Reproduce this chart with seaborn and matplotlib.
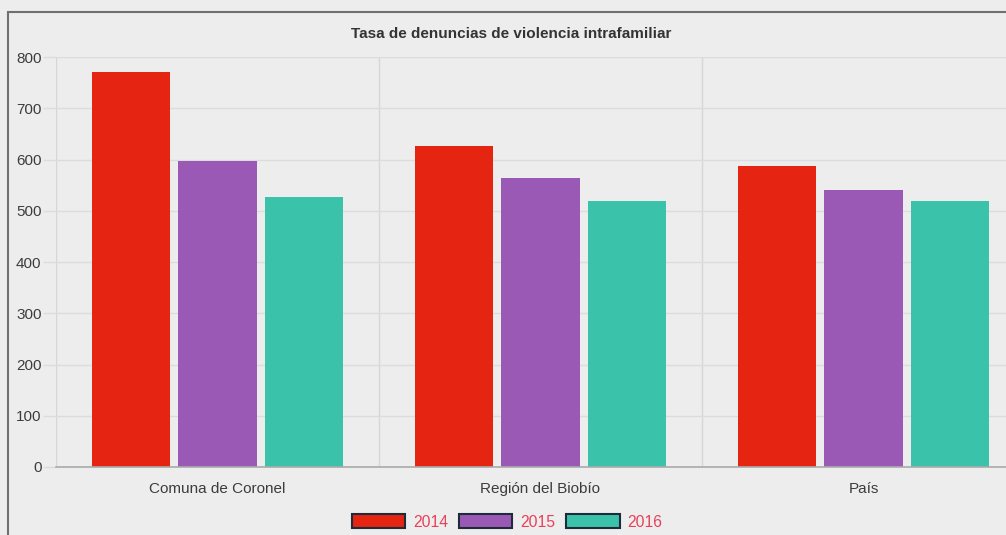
import pandas as pd
import seaborn as sns
import matplotlib.pyplot as plt
from matplotlib.patches import Rectangle, Patch

# Data
categorias = ['Comuna de Coronel', 'Región del Biobío', 'País']
anios = ['2014', '2015', '2016']
tasa_2014 = [771, 626, 587]
tasa_2015 = [597, 564, 540]
tasa_2016 = [527, 519, 519]
colores = ['#e62412', '#9b59b6', '#3ac3aa']

df = pd.DataFrame({
    'Territorio': categorias * 3,
    'Año': [a for a in anios for _ in categorias],
    'Tasa': tasa_2014 + tasa_2015 + tasa_2016,
})

sns.set_theme(style='white')
plt.rcParams['font.family'] = ['Liberation Sans', 'DejaVu Sans']

W, H = 1006, 535
fig = plt.figure(figsize=(W / 100, H / 100), dpi=100)
fig.patch.set_facecolor('#ededed')
ax = fig.add_axes([56 / W, (H - 467) / H, (1025 - 56) / W, (467 - 57) / H])
ax.set_facecolor('#ededed')

sns.barplot(data=df, x='Territorio', y='Tasa', hue='Año', palette=colores,
            width=0.8, gap=0.093, saturation=1, legend=False, ax=ax,
            edgecolor='none')

ax.set_xlim(-0.5, 2.5)
ax.set_ylim(0, 800)
ax.set_yticks(range(0, 801, 100))
ax.set_xlabel('')
ax.set_ylabel('')
for s in ['top', 'right', 'left']:
    ax.spines[s].set_visible(False)
ax.spines['bottom'].set_color('#aaaaaa')
ax.spines['bottom'].set_linewidth(1.2)

ax.grid(axis='y', color='#dcdcdc', linewidth=1)
ax.set_xticks([-0.5, 0.5, 1.5], minor=True)
ax.grid(axis='x', which='minor', color='#d6d6d6', linewidth=1)
ax.set_axisbelow(True)
ax.tick_params(axis='x', which='major', length=0, pad=10.5, labelsize=11, labelcolor='#3c3c3c')
ax.tick_params(axis='x', which='minor', length=9.4, color='#d6d6d6', width=1)
ax.tick_params(axis='y', length=9.4, color='#dcdcdc', width=1, pad=1,
               labelsize=11, labelcolor='#3c3c3c', left=True)

fig.text(511 / W, 1 - 34 / H, 'Tasa de denuncias de violencia intrafamiliar',
         ha='center', va='center', fontsize=11, fontweight='bold', color='#333333')

handles = [Patch(facecolor=c, edgecolor='#1d2b3a', linewidth=1.5, label=a)
           for c, a in zip(colores, anios)]
leg = fig.legend(handles=handles, loc='center', bbox_to_anchor=(507 / W, 1 - 522 / H),
                 ncol=3, frameon=False, handlelength=3.4, handleheight=1.0,
                 handletextpad=0.5, columnspacing=0.7, fontsize=11.3)
for t in leg.get_texts():
    t.set_color('#e8405a')

fig.patches.append(Rectangle((8 / W, -0.1), 1.2, 1 - 12 / H + 0.1,
                             transform=fig.transFigure, fill=False,
                             edgecolor='#707070', linewidth=1.5))

fig.savefig('out.png', dpi=100, facecolor=fig.get_facecolor())
